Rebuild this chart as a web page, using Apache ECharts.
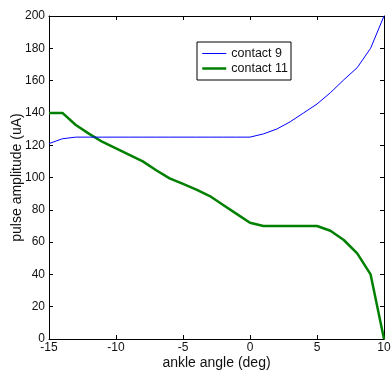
<!DOCTYPE html>
<html>
<head>
<meta charset="utf-8">
<script src="https://cdn.jsdelivr.net/npm/echarts@6/dist/echarts.min.js"></script>
<style>html,body{margin:0;padding:0;background:#fff}#c{width:391px;height:373px}</style>
</head>
<body>
<div id="c"></div>
<script>
const angles = [-15,-14,-13,-12,-11,-10,-9,-8,-7,-6,-5,-4,-3,-2,-1,0,1,2,3,4,5,6,7,8,9,10];
const contact9 = [121,124,125,125,125,125,125,125,125,125,125,125,125,125,125,125,127,130,134.5,140,145.5,152.5,160.5,168,180,200];
const contact11 = [140,140,132.5,127,122,118,114,110,104.5,99.5,96,92.5,88.5,83,77.5,72,70,70,70,70,70,67,61.3,53,40,0];
const seriesNames = ['contact 9','contact 11'];
const seriesColors = ['#0000ff','#008000'];
const seriesWidths = [1, 2.5];
const xTicks = {min:-15,max:10,interval:5};
const yTicks = {min:0,max:200,interval:20};

const font = 'Liberation Sans, Arial, sans-serif';
const toPairs = (xs, ys) => xs.map((x,i)=>[x, ys[i]]);
const chart = echarts.init(document.getElementById('c'), null, {renderer:'canvas'});
const axCommon = () => ({
  axisLine:{show:true, onZero:false, lineStyle:{color:'#000', width:1}},
  axisTick:{show:true, inside:true, length:4, lineStyle:{color:'#000'}},
  splitLine:{show:false}
});
chart.setOption({
  animation:false,
  backgroundColor:'#fff',
  grid:{left:49, right:7, top:16, bottom:34, containLabel:false, outerBoundsMode:'none'},
  xAxis:[
    Object.assign({type:'value', position:'bottom', min:xTicks.min, max:xTicks.max, interval:xTicks.interval,
      name:'ankle angle (deg)', nameLocation:'middle', nameGap:17, nameMoveOverlap:false,
      nameTextStyle:{color:'#111', fontSize:14, fontFamily:font},
      axisLabel:{color:'#111', fontSize:12, fontFamily:font, margin:3}}, axCommon()),
    Object.assign({type:'value', position:'top', min:xTicks.min, max:xTicks.max, interval:xTicks.interval,
      axisLabel:{show:false}}, axCommon())
  ],
  yAxis:[
    Object.assign({type:'value', position:'left', min:yTicks.min, max:yTicks.max, interval:yTicks.interval,
      name:'pulse amplitude (uA)', nameLocation:'middle', nameGap:25, nameRotate:90, nameMoveOverlap:false,
      nameTextStyle:{color:'#111', fontSize:14, fontFamily:font},
      axisLabel:{color:'#111', fontSize:12, fontFamily:font, margin:4}}, axCommon()),
    Object.assign({type:'value', position:'right', min:yTicks.min, max:yTicks.max, interval:yTicks.interval,
      axisLabel:{show:false}}, axCommon())
  ],
  legend:{
    show:true,
    left:197, top:42, orient:'vertical', itemGap:2, itemWidth:24, itemHeight:10,
    padding:[5,3,5,4], borderColor:'#000', borderWidth:1, backgroundColor:'#fff',
    textStyle:{color:'#111', fontSize:12.5, fontFamily:font, fontWeight:'normal'},
    data:seriesNames.map((n,i)=>({name:n, itemStyle:{opacity:0}, lineStyle:{color:seriesColors[i], width:seriesWidths[i]}}))
  },
  series:[
    {name:seriesNames[0], type:'line', data:toPairs(angles, contact9), symbol:'none',
      lineStyle:{color:seriesColors[0], width:seriesWidths[0]}, itemStyle:{color:seriesColors[0]}, z:3},
    {name:seriesNames[1], type:'line', data:toPairs(angles, contact11), symbol:'none',
      lineStyle:{color:seriesColors[1], width:seriesWidths[1]}, itemStyle:{color:seriesColors[1]}, z:2}
  ]
});
</script>
</body>
</html>
